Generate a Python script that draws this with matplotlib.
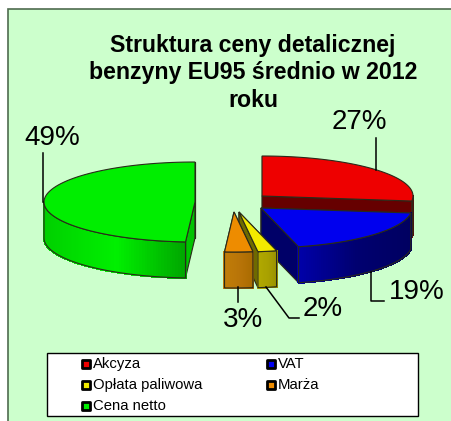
import numpy as np
import matplotlib
matplotlib.use("Agg")
import matplotlib.pyplot as plt
from matplotlib.colors import to_rgb
from matplotlib.patches import Polygon, Rectangle

plt.rcParams['font.family'] = ['Liberation Sans', 'DejaVu Sans']

# data
labels = ["Akcyza", "VAT", "Opłata paliwowa", "Marża", "Cena netto"]
shares = [27, 19, 2, 3, 49]
pct_labels = ["27%", "19%", "2%", "3%", "49%"]
title = "Struktura ceny detalicznej\nbenzyny EU95 średnio w 2012\nroku"

# styles, all in pixels of the 451x421 picture
top_colors = ["#EE0000", "#0000EE", "#F2EA00", "#EE8C00", "#00EE00"]
# outer wall shading, left to middle to right
wall_colors = [("#8A0000", "#660000", "#660000"), ("#0000A8", "#000070", "#000060"),
               ("#B0A800", "#A8A000", "#989000"), ("#C07C08", "#B87408", "#A86A00"),
               ("#00D000", "#00F000", "#00A400")]
cut_colors = ["#660000", "#000068", "#6E6A00", "#8A5800", "#00C400"]
centers = [(262, 196), (261, 208), (239, 212), (234, 212), (195, 202)]
RX, RY, DEPTH = 151, 40, 36
EDGE = "#2A2A1A"
BG = "#CCFFCC"


def rim(center, a0, a1, n=80):
    # points of the elliptic rim, angles clockwise from 12 o'clock
    t = np.radians(np.linspace(a0, a1, n))
    return np.column_stack([center[0] + RX * np.sin(t), center[1] - RY * np.cos(t)])


def shade(colors, f):
    c = [np.array(to_rgb(x)) for x in colors]
    if f < 0.5:
        return c[0] + (c[1] - c[0]) * f * 2
    return c[1] + (c[2] - c[1]) * (f - 0.5) * 2


def draw_slice(ax, i, a0, a1):
    c = centers[i]
    lw = 0.8
    down = np.array([0, DEPTH])
    top = rim(c, a0, a1)

    # faces cut along the radius
    for a in (a0, a1):
        p = rim(c, a, a, 1)[0]
        pts = [c, p, p + down, np.array(c) + down]
        ax.add_patch(Polygon(pts, fc=cut_colors[i], ec=EDGE, lw=lw))

    # outer wall, the part of the rim at the front, shaded in thin strips
    lo, hi = max(a0, 90), min(a1, 270)
    if hi > lo:
        r = rim(c, lo, hi)
        x_min, x_max = r[:, 0].min(), r[:, 0].max()
        for k in range(len(r) - 1):
            f = (0.5 * (r[k, 0] + r[k + 1, 0]) - x_min) / (x_max - x_min)
            col = shade(wall_colors[i], f)
            ax.add_patch(Polygon([r[k], r[k + 1], r[k + 1] + down, r[k] + down], fc=col, ec=col, lw=1.0, antialiased=False))
        ax.add_patch(Polygon(np.vstack([r, (r + down)[::-1]]), fc="none", ec=EDGE, lw=lw))

    ax.add_patch(Polygon(np.vstack([[c], top]), fc=top_colors[i], ec=EDGE, lw=lw))


fig = plt.figure(figsize=(4.51, 4.21), dpi=100)
ax = fig.add_axes([0, 0, 1, 1])
ax.set_xlim(0, 451)
ax.set_ylim(421, 0)
ax.axis("off")

ax.add_patch(Rectangle((7.5, 8.5), 460, 430, fc=BG, ec="#4F6B4F", lw=1.2))

edges = np.concatenate([[0], np.cumsum(shares)]) * 3.6
# back to front so nearer slices overlap the others
for i in [4, 0, 1, 2, 3]:
    draw_slice(ax, i, edges[i], edges[i + 1])

ax.text(253, 73, title, ha="center", va="center", fontsize=16.7, fontweight="bold",
        color="black", linespacing=1.27)

# leader lines and percent labels
leaders = [[(376, 170), (376, 138)], [(371, 272), (371, 301), (384, 301)],
           [(266, 287), (289, 318), (299, 318)], [(238, 287), (238, 302)], [(43, 202), (43, 153)]]
label_pos = [(359, 122), (417, 292), (323, 309), (243, 320), (52, 138)]
for i in range(len(shares)):
    xs, ys = zip(*leaders[i])
    ax.plot(xs, ys, color="black", lw=1.1)
    ax.text(label_pos[i][0], label_pos[i][1], pct_labels[i], ha="center", va="center", fontsize=20, color="black")

# legend
ax.add_patch(Rectangle((46.5, 352.5), 371, 63, fc="white", ec="black", lw=1))
legend_pos = [(81, 364), (266, 364), (81, 385), (266, 385), (81, 406)]
for i in range(len(labels)):
    x, y = legend_pos[i]
    ax.add_patch(Rectangle((x + 0.5, y - 4.5), 8, 8, fc=top_colors[i], ec="black", lw=2, joinstyle="round"))
    ax.text(x + 12, y, labels[i], ha="left", va="center", fontsize=10.7, color="black")

fig.savefig("out.png", dpi=100)
